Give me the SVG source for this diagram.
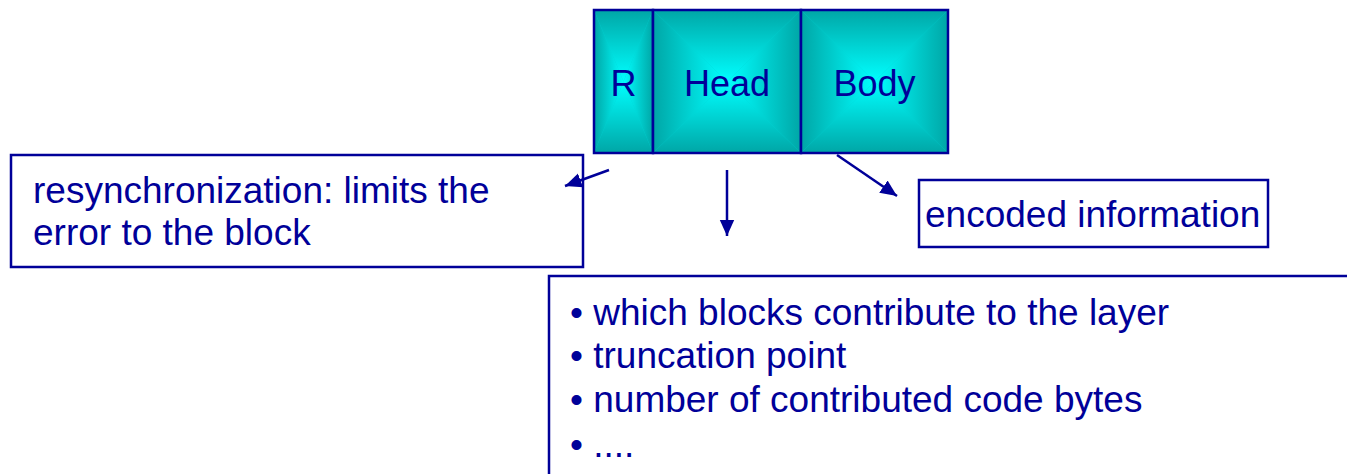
<svg xmlns="http://www.w3.org/2000/svg" width="1347" height="474" viewBox="0 0 1347 474">
<defs>
<linearGradient id="gT" x1="0" y1="0" x2="0" y2="1"><stop offset="0" stop-color="#00A6A6"/><stop offset="1" stop-color="#00FFFF"/></linearGradient>
<linearGradient id="gB" x1="0" y1="1" x2="0" y2="0"><stop offset="0" stop-color="#00A6A6"/><stop offset="1" stop-color="#00FFFF"/></linearGradient>
<linearGradient id="gL" x1="0" y1="0" x2="1" y2="0"><stop offset="0" stop-color="#00A6A6"/><stop offset="1" stop-color="#00FFFF"/></linearGradient>
<linearGradient id="gR" x1="1" y1="0" x2="0" y2="0"><stop offset="0" stop-color="#00A6A6"/><stop offset="1" stop-color="#00FFFF"/></linearGradient>
<marker id="ah" viewBox="0 0 10 10" refX="10" refY="5" markerWidth="6.6" markerHeight="6.6" markerUnits="strokeWidth" orient="auto"><path d="M0,0.5 L10,5 L0,9.5 z" fill="#000099"/></marker>
<style>
.t{font-family:"Liberation Sans",Arial,sans-serif;font-size:37px;fill:#000099}
.tc{font-family:"Liberation Sans",Arial,sans-serif;font-size:36px;fill:#000099}
.box{fill:#fff;stroke:#000099;stroke-width:2.5}
.cell{fill:none;stroke:#000099;stroke-width:2.5}
.base{fill:#00D2D2}
.con{stroke:#000099;stroke-width:2.5;fill:none;marker-end:url(#ah)}
</style>
</defs>
<g id="cellR">
<rect class="base" x="594" y="10" width="59" height="143"/>
<polygon points="594,10 653,10 623.5,81.5" fill="url(#gT)"/>
<polygon points="594,153 653,153 623.5,81.5" fill="url(#gB)"/>
<polygon points="594,10 594,153 623.5,81.5" fill="url(#gL)"/>
<polygon points="653,10 653,153 623.5,81.5" fill="url(#gR)"/>
<rect class="cell" x="594" y="10" width="59" height="143"/>
<text class="tc" x="623.5" y="96" text-anchor="middle">R</text>
</g>
<g id="cellHead">
<rect class="base" x="653" y="10" width="148" height="143"/>
<polygon points="653,10 801,10 727,81.5" fill="url(#gT)"/>
<polygon points="653,153 801,153 727,81.5" fill="url(#gB)"/>
<polygon points="653,10 653,153 727,81.5" fill="url(#gL)"/>
<polygon points="801,10 801,153 727,81.5" fill="url(#gR)"/>
<rect class="cell" x="653" y="10" width="148" height="143"/>
<text class="tc" x="727" y="96" text-anchor="middle">Head</text>
</g>
<g id="cellBody">
<rect class="base" x="801" y="10" width="147" height="143"/>
<polygon points="801,10 948,10 874.5,81.5" fill="url(#gT)"/>
<polygon points="801,153 948,153 874.5,81.5" fill="url(#gB)"/>
<polygon points="801,10 801,153 874.5,81.5" fill="url(#gL)"/>
<polygon points="948,10 948,153 874.5,81.5" fill="url(#gR)"/>
<rect class="cell" x="801" y="10" width="147" height="143"/>
<text class="tc" x="874.5" y="96" text-anchor="middle">Body</text>
</g>
<g id="resync">
<rect class="box" x="11" y="155" width="572" height="112"/>
<text class="t" x="33" y="203">resynchronization: limits the</text>
<text class="t" x="33" y="245">error to the block</text>
</g>
<g id="encoded">
<rect class="box" x="919" y="180" width="349" height="67"/>
<text class="t" x="925" y="227">encoded information</text>
</g>
<g id="headinfo">
<rect class="box" x="549" y="276" width="820" height="220"/>
<text class="t" x="570" y="325">• which blocks contribute to the layer</text>
<text class="t" x="570" y="368">• truncation point</text>
<text class="t" x="570" y="412">• number of contributed code bytes</text>
<text class="t" x="570" y="457">• ....</text>
</g>
<g id="connectors">
<line class="con" x1="609" y1="170" x2="565" y2="186"/>
<line class="con" x1="727" y1="170" x2="727" y2="236"/>
<line class="con" x1="837" y1="155" x2="897" y2="196"/>
</g>
</svg>
